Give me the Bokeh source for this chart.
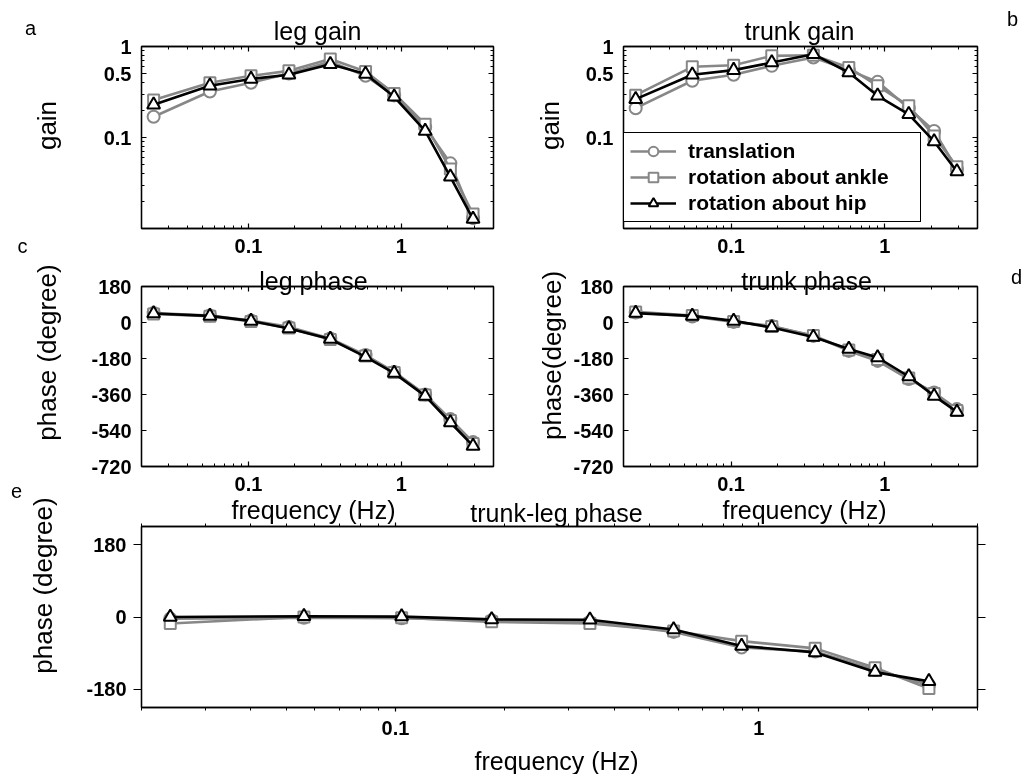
from bokeh.plotting import figure
from bokeh.models import (Range1d, LogAxis, LinearAxis, FixedTicker, NumeralTickFormatter,
                          Legend, LegendItem, Label)
from bokeh.embed import file_html
from bokeh.resources import INLINE
import math

# ---------------- data ----------------
freq = [0.024, 0.056, 0.104, 0.184, 0.343, 0.583, 0.897, 1.43, 2.09, 2.94]
series_names = ["translation", "rotation about ankle", "rotation about hip"]

leg_gain_trans = [0.169, 0.32, 0.40, 0.505, 0.68, 0.476, 0.29, 0.13, 0.052, 0.013]
leg_gain_ankle = [0.258, 0.40, 0.476, 0.54, 0.73, 0.53, 0.305, 0.14, 0.045, 0.0144]
leg_gain_hip = [0.229, 0.37, 0.44, 0.49, 0.64, 0.50, 0.28, 0.118, 0.037, 0.0127]

trunk_gain_trans = [0.21, 0.42, 0.489, 0.613, 0.757, 0.55, 0.409, 0.21, 0.118, 0.045]
trunk_gain_ankle = [0.292, 0.598, 0.623, 0.789, 0.80, 0.588, 0.37, 0.223, 0.104, 0.0476]
trunk_gain_hip = [0.264, 0.489, 0.55, 0.667, 0.824, 0.518, 0.287, 0.18, 0.0904, 0.0423]

leg_phase_trans = [47, 35, 10, -22, -80, -163, -247, -360, -483, -598]
leg_phase_ankle = [43, 31, 5, -27, -85, -168, -250, -362, -490, -605]
leg_phase_hip = [45, 33, 8, -30, -83, -172, -253, -367, -500, -617]

trunk_phase_trans = [50, 30, 3, -17, -67, -142, -192, -283, -350, -433]
trunk_phase_ankle = [53, 35, 5, -20, -65, -138, -185, -278, -355, -440]
trunk_phase_hip = [47, 33, 8, -25, -72, -133, -175, -270, -367, -447]

tl_phase_trans = [-4, -2, -3, -8, -12, -37, -76, -86, -132, -169]
tl_phase_ankle = [-16, 0, -2, -12, -16, -35, -60, -78, -126, -178]
tl_phase_hip = [0, 2, 1, -6, -7, -31, -72, -88, -137, -160]

x_ticks = [0.1, 1]
x_minor = [0.02, 0.03, 0.04, 0.05, 0.06, 0.07, 0.08, 0.09,
           0.2, 0.3, 0.4, 0.5, 0.6, 0.7, 0.8, 0.9, 2, 3, 4]
gain_ticks = [0.1, 0.5, 1]
gain_minor = [0.02, 0.03, 0.04, 0.05, 0.06, 0.07, 0.08, 0.09,
              0.2, 0.3, 0.4, 0.6, 0.7, 0.8, 0.9]
phase_ticks = [-720, -540, -360, -180, 0, 180]
tl_ticks = [-180, 0, 180]

# ---------------- style ----------------
W, H = 1029, 774
GRAY = "#878787"
FONT = "Liberation Sans"
styles = [dict(color=GRAY, marker="circle", size=12),
          dict(color=GRAY, marker="square", size=11),
          dict(color="black", marker="triangle", size=13)]


def make_panel(box, yrange, y_log, yticks, yminor, inward=True, ylab_standoff=10, xlab_standoff=10):
    l, t, r, b = box
    p = figure(width=W, height=H, x_axis_type="log", y_axis_type="log" if y_log else "linear",
               x_range=Range1d(0.02, 4), y_range=Range1d(*yrange),
               min_border_left=l, min_border_top=t, min_border_right=W - r, min_border_bottom=H - b,
               output_backend="svg", toolbar_location=None,
               background_fill_color="white", border_fill_color=None,
               outline_line_color="black", outline_line_width=1.3)
    p.grid.visible = False
    p.add_layout(LogAxis(), "above")
    p.add_layout(LogAxis() if y_log else LinearAxis(), "right")
    for ax in p.xaxis:
        ax.ticker = FixedTicker(ticks=x_ticks, minor_ticks=x_minor)
    for ax in p.yaxis:
        ax.ticker = FixedTicker(ticks=yticks, minor_ticks=yminor)
    for ax in p.axis:
        ax.formatter = NumeralTickFormatter(format="0.[0]")
        ax.axis_line_color = "black"
        ax.axis_line_width = 1.3
        ax.major_tick_line_color = "black"
        ax.major_tick_line_width = 1.2
        ax.minor_tick_line_color = "black"
        ax.minor_tick_line_width = 1
        ax.major_label_text_font = FONT
        ax.major_label_text_font_style = "bold"
        ax.major_label_text_font_size = "20px"
        ax.major_label_text_color = "black"
        if inward:
            ax.major_tick_in, ax.major_tick_out = 5, 0
            ax.minor_tick_in, ax.minor_tick_out = 3, 0
    if not inward:
        for ax in p.xaxis:
            ax.major_tick_in, ax.major_tick_out = 0, 4
            ax.minor_tick_in, ax.minor_tick_out = 0, 3
        for ax in p.yaxis:
            ax.major_tick_in, ax.major_tick_out = 0, 8
            ax.minor_tick_in, ax.minor_tick_out = 0, 4
    p.below[0].major_label_standoff = xlab_standoff
    p.left[0].major_label_standoff = ylab_standoff
    for ax in (p.above[0], p.right[0]):
        ax.major_label_text_color = None
        ax.major_label_text_font_size = "1px"
        ax.major_label_standoff = 0
    return p


def draw(p, ys):
    rends = []
    for y, st in zip(ys, styles):
        ln = p.line(freq, y, line_color=st["color"], line_width=2.6)
        sc = p.scatter(freq, y, marker=st["marker"], size=st["size"], line_color=st["color"],
                       line_width=2, fill_color="white")
        rends.append((ln, sc))
    return rends


pa = make_panel((141, 46, 493, 228), (0.01, 1), True, gain_ticks, gain_minor)
draw(pa, [leg_gain_trans, leg_gain_ankle, leg_gain_hip])

pb = make_panel((623, 46, 977, 228), (0.01, 1), True, gain_ticks, gain_minor)
rb = draw(pb, [trunk_gain_trans, trunk_gain_ankle, trunk_gain_hip])
legend = Legend(items=[LegendItem(label=n, renderers=list(r)) for n, r in zip(series_names, rb)],
                location=(0, 6), margin=0, padding=6, spacing=2,
                glyph_width=46, glyph_height=24, label_standoff=12, label_width=226, label_height=24,
                border_line_color="black", border_line_width=1.5, border_line_alpha=1.0,
                background_fill_color="white", background_fill_alpha=1.0,
                label_text_font=FONT, label_text_font_style="bold", label_text_font_size="21px",
                label_text_color="black")
pb.add_layout(legend)

pc = make_panel((141, 286, 493, 466), (-720, 180), False, phase_ticks, [])
draw(pc, [leg_phase_trans, leg_phase_ankle, leg_phase_hip])

pd = make_panel((623, 286, 977, 466), (-720, 180), False, phase_ticks, [])
draw(pd, [trunk_phase_trans, trunk_phase_ankle, trunk_phase_hip])

pe = make_panel((141, 526, 977, 707), (-225, 225), False, tl_ticks, [], inward=False,
                ylab_standoff=7, xlab_standoff=9)
draw(pe, [tl_phase_trans, tl_phase_ankle, tl_phase_hip])

# ---------------- overlay with titles, axis labels and panel letters ----------------
ov = figure(width=W, height=H, x_range=Range1d(0, W), y_range=Range1d(0, H),
            x_axis_type=None, y_axis_type=None, min_border=0,
            output_backend="svg", toolbar_location=None,
            background_fill_color=None, border_fill_color=None, outline_line_color=None)
ov.grid.visible = False


def txt(x, y, s, size, bold=False, align="center", baseline="alphabetic", angle=0.0):
    ov.add_layout(Label(x=x, y=H - y, text=s, text_font=FONT, text_font_size=f"{size}px",
                        text_font_style="bold" if bold else "normal",
                        text_align=align, text_baseline=baseline, angle=angle, text_color="black"))


# panel letters
txt(30, 27, "a", 20, baseline="middle")
txt(1012, 18, "b", 20, baseline="middle")
txt(22, 245, "c", 20, baseline="middle")
txt(1016, 276, "d", 20, baseline="middle")
txt(16, 490, "e", 20, baseline="middle")
# titles
txt(317, 30, "leg gain", 25)
txt(799, 30, "trunk gain", 25)
txt(313, 280, "leg phase", 25)
txt(806, 280, "trunk phase", 25)
txt(556, 512, "trunk-leg phase", 25)
# x labels
txt(313, 509, "frequency (Hz)", 25)
txt(804, 509, "frequency (Hz)", 25)
txt(556, 760, "frequency (Hz)", 25)
# y labels
R = math.pi / 2
txt(46, 125, "gain", 26, baseline="middle", angle=R)
txt(549, 125, "gain", 26, baseline="middle", angle=R)
txt(46, 352, "phase (degree)", 26, baseline="middle", angle=R)
txt(551, 355, "phase(degree)", 26, baseline="middle", angle=R)
txt(42, 585, "phase (degree)", 26, baseline="middle", angle=R)

p = [pa, pb, pc, pd, pe, ov]
for f in p:
    f.styles = {"position": "fixed", "left": "0px", "top": "0px"}

open("out.html", "w").write(file_html(p, INLINE))
